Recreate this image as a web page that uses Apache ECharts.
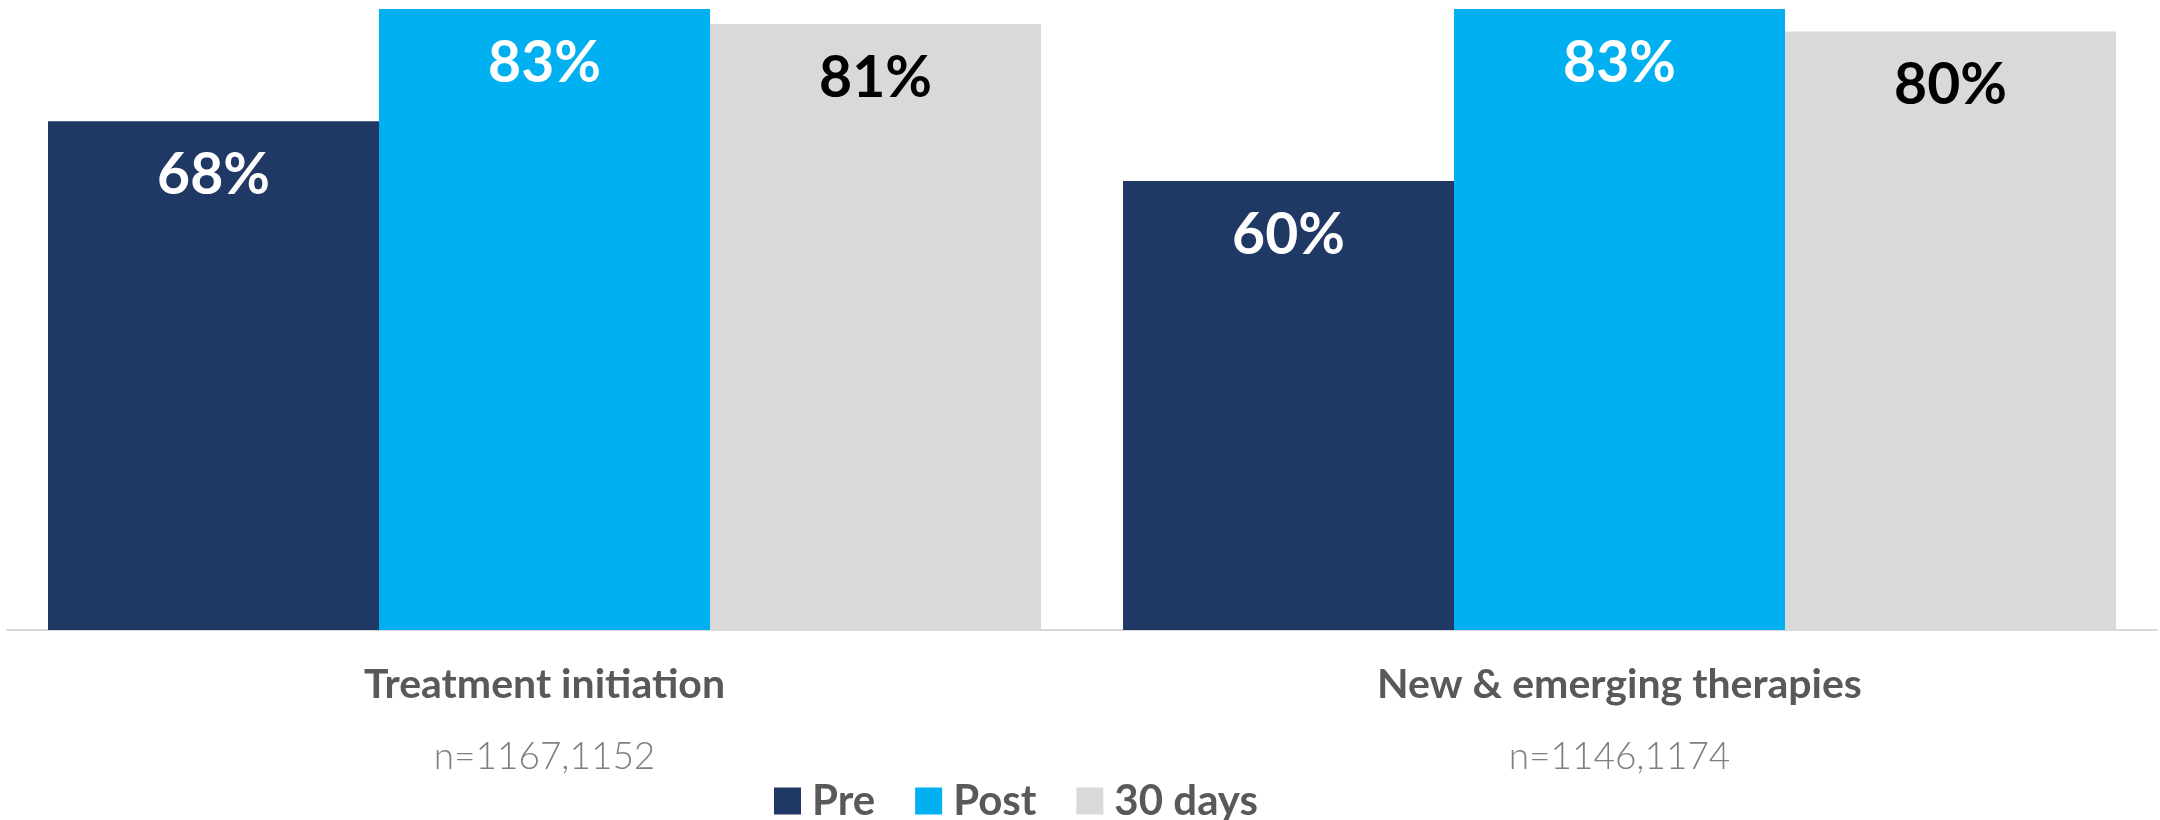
<!DOCTYPE html>
<html>
<head>
<meta charset="utf-8">
<script src="https://cdn.jsdelivr.net/npm/echarts@6/dist/echarts.min.js"></script>
<style>html,body{margin:0;padding:0;background:#fff;}#c{width:2160px;height:820px;}</style>
</head>
<body>
<div id="c"></div>
<script>
const categories = ['Treatment initiation', 'New & emerging therapies'];
const nLabels = ['n=1167,1152', 'n=1146,1174'];
const seriesNames = ['Pre', 'Post', '30 days'];
const preValues = [68, 60];
const postValues = [83, 83];
const days30Values = [81, 80];

const colors = ['#203864', '#00B0F0', '#D9D9D9'];
const labelColors = ['#FFFFFF', '#FFFFFF', '#000000'];
const values = [preValues, postValues, days30Values];

const chart = echarts.init(document.getElementById('c'));
chart.setOption({
  animation: false,
  grid: { left: 7, right: 3, top: 0, bottom: 190, containLabel: false },
  xAxis: {
    type: 'category',
    data: categories.map((c, i) => c + '\n' + nLabels[i]),
    axisLine: { show: true, lineStyle: { color: '#D9D9D9', width: 2 } },
    axisTick: { show: false },
    axisLabel: {
      margin: 19,
      interval: 0,
      formatter: function (v) {
        const p = v.split('\n');
        return '{a|' + p[0] + '}\n{b|' + p[1] + '}';
      },
      rich: {
        a: { fontFamily: 'Lato', fontWeight: 'bold', fontSize: 41, color: '#595959', lineHeight: 72 },
        b: { fontFamily: 'Lato', fontWeight: 300, fontSize: 37, color: '#7F7F7F', lineHeight: 72 }
      }
    }
  },
  yAxis: { type: 'value', min: 0, max: 84.2, show: false, splitLine: { show: false } },
  legend: {
    data: seriesNames,
    left: 774,
    top: 780,
    padding: 0,
    itemGap: 40,
    itemWidth: 27,
    itemHeight: 27,
    icon: 'rect',
    textStyle: { fontFamily: 'Lato', fontWeight: 'bold', fontSize: 42, color: '#595959', padding: [0, 0, 0, 6], lineHeight: 27 }
  },
  series: seriesNames.map((name, i) => ({
    name: name,
    type: 'bar',
    data: values[i],
    barWidth: 331,
    barGap: '0%',
    itemStyle: { color: colors[i] },
    label: {
      show: true,
      position: 'insideTop',
      distance: 26,
      formatter: '{c}%',
      fontFamily: 'Lato',
      fontWeight: 'bold',
      fontSize: 57,
      color: labelColors[i]
    }
  }))
});
</script>
</body>
</html>
